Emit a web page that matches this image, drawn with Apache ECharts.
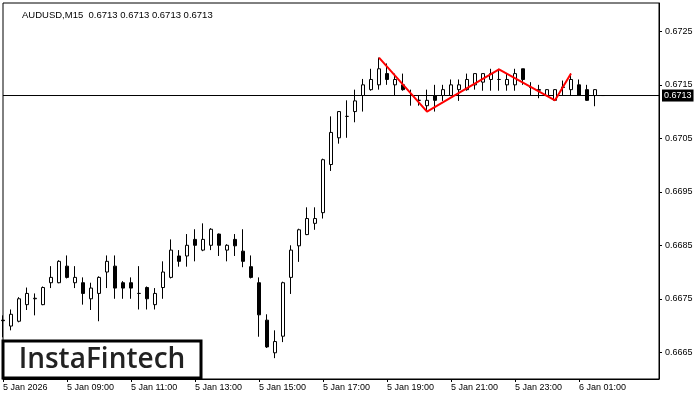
<!DOCTYPE html>
<html>
<head>
<meta charset="utf-8">
<script src="https://cdn.jsdelivr.net/npm/echarts@6/dist/echarts.min.js"></script>
<style>html,body{margin:0;padding:0;background:#fff}#c{width:700px;height:400px}</style>
</head>
<body>
<div id="c"></div>
<script>
// 15-minute bars starting 5 Jan 07:00
const xTickLabels = ['5 Jan 2026','5 Jan 09:00','5 Jan 11:00','5 Jan 13:00','5 Jan 15:00','5 Jan 17:00','5 Jan 19:00','5 Jan 21:00','5 Jan 23:00','6 Jan 01:00'];
const yTickValues = [0.6665, 0.6675, 0.6685, 0.6695, 0.6705, 0.6715, 0.6725];
const currentPrice = 0.6713;

const opens = [0.66710,0.66699,0.66708,0.66739,0.66750,0.66739,0.66780,0.66780,0.66811,0.66780,
0.66780,0.66750,0.66760,0.66800,0.66811,0.66780,0.66780,0.66760,0.66771,0.66739,
0.66771,0.66790,0.66830,0.66830,0.66861,0.66841,0.66850,0.66871,0.66841,0.66861,
0.66839,0.66810,0.66780,0.66710,0.66649,0.66680,0.66790,0.66849,0.66870,0.66891,
0.66911,0.67001,0.67051,0.67091,0.67100,0.67130,0.67141,0.67150,0.67171,0.67150,
0.67150,0.67130,0.67121,0.67111,0.67130,0.67130,0.67130,0.67141,0.67141,0.67150,
0.67155,0.67160,0.67160,0.67150,0.67150,0.67180,0.67145,0.67141,0.67130,0.67121,
0.67145,0.67141,0.67150,0.67141,0.67130,0.67130];
const closes = [0.66709,0.66721,0.66750,0.66760,0.66751,0.66771,0.66790,0.66820,0.66790,0.66790,
0.66760,0.66770,0.66790,0.66820,0.66770,0.66770,0.66770,0.66760,0.66750,0.66760,
0.66800,0.66841,0.66820,0.66850,0.66850,0.66861,0.66880,0.66850,0.66850,0.66849,
0.66820,0.66790,0.66720,0.66660,0.66670,0.66780,0.66841,0.66879,0.66900,0.66900,
0.67010,0.67061,0.67100,0.67091,0.67120,0.67150,0.67160,0.67180,0.67160,0.67160,
0.67141,0.67130,0.67121,0.67121,0.67121,0.67141,0.67150,0.67150,0.67160,0.67171,
0.67171,0.67171,0.67160,0.67160,0.67171,0.67160,0.67145,0.67140,0.67141,0.67141,
0.67146,0.67160,0.67130,0.67121,0.67141,0.67130];
const lows = [0.66678,0.66691,0.66706,0.66729,0.66719,0.66738,0.66770,0.66779,0.66788,0.66770,
0.66739,0.66729,0.66708,0.66770,0.66750,0.66750,0.66750,0.66730,0.66730,0.66730,
0.66750,0.66788,0.66810,0.66810,0.66820,0.66839,0.66841,0.66830,0.66820,0.66830,
0.66809,0.66788,0.66679,0.66658,0.66639,0.66669,0.66759,0.66819,0.66869,0.66879,
0.66900,0.66989,0.67040,0.67051,0.67080,0.67100,0.67139,0.67141,0.67150,0.67130,
0.67139,0.67111,0.67111,0.67100,0.67100,0.67120,0.67129,0.67120,0.67139,0.67141,
0.67139,0.67139,0.67139,0.67139,0.67139,0.67150,0.67130,0.67125,0.67129,0.67120,
0.67130,0.67130,0.67130,0.67120,0.67110,0.67130];
const highs = [0.66719,0.66730,0.66753,0.66771,0.66760,0.66773,0.66811,0.66822,0.66831,0.66811,
0.66790,0.66780,0.66792,0.66831,0.66831,0.66783,0.66790,0.66811,0.66773,0.66770,
0.66820,0.66861,0.66841,0.66871,0.66880,0.66891,0.66882,0.66872,0.66852,0.66871,
0.66880,0.66831,0.66790,0.66721,0.66691,0.66782,0.66850,0.66881,0.66921,0.66921,
0.67012,0.67091,0.67101,0.67121,0.67141,0.67161,0.67180,0.67201,0.67190,0.67171,
0.67171,0.67141,0.67130,0.67141,0.67150,0.67150,0.67160,0.67160,0.67171,0.67171,
0.67171,0.67180,0.67180,0.67171,0.67180,0.67180,0.67155,0.67150,0.67142,0.67142,
0.67158,0.67171,0.67160,0.67150,0.67142,0.67130];

// pattern outline (bar index, price)
const patternIdx = [47, 53, 62, 69, 71];
const patternPrice = [0.67201, 0.67100, 0.67179, 0.67121, 0.67171];

// category labels (one per 15-min slot, incl. empty future slots)
const nSlots = 83;
const categories = [];
for (let i = 0; i < nSlots; i++) {
  const m = 7 * 60 + i * 15;
  const day = m >= 1440 ? 6 : 5;
  const mm = m % 1440;
  const hh = String(Math.floor(mm / 60)).padStart(2, '0');
  const mi = String(mm % 60).padStart(2, '0');
  categories.push(day + ' Jan ' + hh + ':' + mi);
}

const candleData = opens.map((o, i) => [o, closes[i], lows[i], highs[i]]);
const patternData = patternIdx.map((k, i) => [categories[k], patternPrice[i]]);
const priceLineData = [[categories[0], currentPrice], [categories[nSlots - 1], currentPrice]];

const FONT = 'Liberation Sans';
const chart = echarts.init(document.getElementById('c'), null, {renderer: 'canvas'});
chart.setOption({
  animation: false,
  backgroundColor: '#fff',
  title: {
    text: 'AUDUSD,M15  0.6713 0.6713 0.6713 0.6713',
    left: 17, top: 5,
    textStyle: {fontFamily: FONT, fontSize: 9.5, fontWeight: 'normal', color: '#000'}
  },
  grid: {left: 3, right: 41, top: 3, bottom: 21, show: true, borderColor: '#000', borderWidth: 1, backgroundColor: '#fff'},
  xAxis: {
    type: 'category',
    data: categories,
    boundaryGap: false,
    axisLine: {show: true, lineStyle: {color: '#000', width: 1}},
    axisTick: {show: true, length: 3, lineStyle: {color: '#000'}, interval: (idx) => idx % 8 === 0 && idx / 8 < xTickLabels.length},
    axisLabel: {
      interval: (idx) => idx % 8 === 0 && idx / 8 < xTickLabels.length,
      formatter: (v, idx) => xTickLabels[idx / 8] || '',
      align: 'left', margin: 4,
      fontFamily: FONT, fontSize: 9, color: '#000'
    },
    splitLine: {show: false}
  },
  yAxis: {
    type: 'value',
    position: 'right',
    min: 0.666, max: 0.67303,
    scale: true,
    axisLine: {show: true, lineStyle: {color: '#000'}},
    axisTick: {show: true, length: 3, inside: false, customValues: yTickValues, lineStyle: {color: '#000'}},
    axisLabel: {
      customValues: yTickValues,
      formatter: (v) => v.toFixed(4),
      margin: 6, fontFamily: FONT, fontSize: 9, color: '#000'
    },
    splitLine: {show: false}
  },
  series: [
    {
      type: 'line',
      data: priceLineData,
      symbol: 'none',
      silent: true,
      lineStyle: {color: '#000', width: 1},
      z: 1,
      endLabel: {
        show: true, distance: 3,
        formatter: () => currentPrice.toFixed(4),
        backgroundColor: '#000', color: '#fff',
        padding: [2, 2, 1, 2], fontFamily: FONT, fontSize: 9
      }
    },
    {
      type: 'candlestick',
      data: candleData,
      barWidth: 4,
      z: 2,
      itemStyle: {color: '#fff', color0: '#000', borderColor: '#000', borderColor0: '#000', borderWidth: 1}
    },
    {
      type: 'line',
      data: patternData,
      symbol: 'none',
      lineStyle: {color: '#ff0000', width: 2},
      z: 5
    }
  ],
  graphic: [
    {
      type: 'rect', z: 100,
      shape: {x: 3, y: 341, width: 198, height: 37},
      style: {fill: '#fff', stroke: '#000', lineWidth: 3}
    },
    {
      type: 'text', z: 101,
      x: 102, y: 360,
      style: {text: 'InstaFintech', fontFamily: 'Open Sans', fontSize: 28, fontWeight: 600, fill: '#222', align: 'center', verticalAlign: 'middle'}
    }
  ]
});
</script>
</body>
</html>
